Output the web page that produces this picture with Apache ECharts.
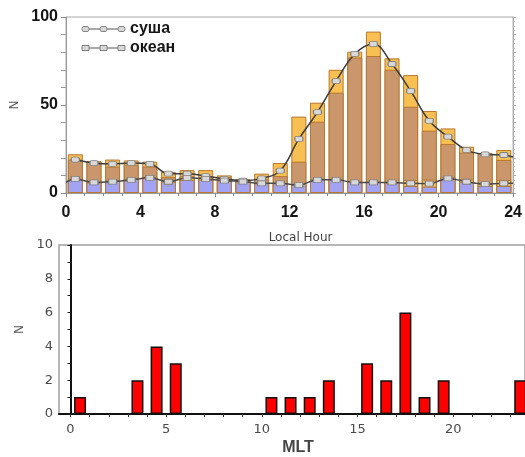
<!DOCTYPE html>
<html>
<head>
<meta charset="utf-8">
<script src="https://cdn.jsdelivr.net/npm/echarts@6/dist/echarts.min.js"></script>
<style>html,body{margin:0;padding:0;background:#fff;}#c{width:525px;height:457px;}</style>
</head>
<body>
<div id="c"></div>
<script>
// ---- Top chart: Local Hour ----
const hourCenters = [0.5,1.5,2.5,3.5,4.5,5.5,6.5,7.5,8.5,9.5,10.5,11.5,12.5,13.5,14.5,15.5,16.5,17.5,18.5,19.5,20.5,21.5,22.5,23.5];
const landUpper = [22,18,19,18.5,17.8,12,13,13,10,7.8,11,17,43.4,51.3,70,80.3,91.7,76.5,67,46.6,36.7,26.3,22.5,24.4];
const landLower = [19,18,15,16,15,9,9.5,9,9,7.5,8,9.6,17.8,40.5,57,77,77.8,70,49,35.4,27.8,23,22.5,18.8];
const oceanUpper = [8,6,7,8,9,6.4,9.5,9,7,6.5,5.5,5.5,5,7.8,7.8,6.4,6.4,6,7.4,7.6,8.9,7.6,5,7.4];
const oceanLower = [8,6,7,8,9,6.4,7.4,7.5,7,6.5,5.5,5.5,5,7.8,7.8,6.4,6.4,6,4,3.6,8.9,6.4,4,4];
const landLine = [19,17,16.5,17,16.5,11,11,9.6,8,7,8.3,12.7,30.7,46,63.6,79,84.7,73.3,58,41,32,24.4,22,21.6];
const oceanLine = [8,6,6.5,7.5,8.6,6.4,8.6,8,7,6.5,5.5,5.5,4.5,7.5,7.5,6,6,6,5.5,5.3,8.3,6.4,5,5.5];
const landLineEdge = {x: 24, y: 20.5};
const oceanLineStart = {x: 0, y: 6};
const oceanLineEdge = {x: 24, y: 5.5};
const topXTicks = [0,4,8,12,16,20,24];

// ---- Bottom chart: MLT ----
const mltCenters = [0.5,3.5,4.5,5.5,10.5,11.5,12.5,13.5,15.5,16.5,17.5,18.5,19.5,23.5];
const mltCounts  = [1,2,4,3,1,1,1,2,3,2,6,1,2,2];
const mltLabelValues = [0,5,10,15,20];
const mltTickValues = [0,1,2,3,4,5,6,7,8,9,10,11,12,13,14,15,16,17,18,19,20,21,22,23];
const mltYMax = 10;

function pairs(xs, ys){ return xs.map((x,i)=>[x, ys[i]]); }

const chart = echarts.init(document.getElementById('c'), null, {renderer:'canvas'});

const boldTick = {fontFamily:'Liberation Sans, Arial, sans-serif', fontWeight:'bold', fontSize:16, color:'#151515'};
const thinTick = {fontFamily:'DejaVu Sans, sans-serif', fontSize:13, color:'#4a4a4a'};

const landLineData = pairs(hourCenters, landLine).concat([{value:[landLineEdge.x, landLineEdge.y], symbol:'none'}]);
const oceanLineData = [{value:[oceanLineStart.x, oceanLineStart.y], symbol:'none'}]
  .concat(pairs(hourCenters, oceanLine))
  .concat([{value:[oceanLineEdge.x, oceanLineEdge.y], symbol:'none'}]);

const mk = {fill:'#d8d8d8', stroke:'#808080', lineWidth:1};
const legendFont = {fontFamily:'Liberation Sans, Arial, sans-serif', fontWeight:'bold', fontSize:16, fill:'#151515', verticalAlign:'middle'};

const option = {
  animation: false,
  backgroundColor: '#fff',
  grid: [
    {left:66, right:5, top:17, height:176, show:true, borderColor:'#a8a8a8', borderWidth:1},
    {left:59, right:0, top:245, height:178, show:true, borderColor:'#a0a0a0', borderWidth:1.5, backgroundColor:'transparent'}
  ],
  xAxis: [
    {gridIndex:0, type:'value', min:0, max:24, interval:4,
     axisLine:{show:true, lineStyle:{color:'#9a9a9a', width:1}},
     axisTick:{show:true, length:4, lineStyle:{color:'#888'}},
     minorTick:{show:true, splitNumber:4, length:3, lineStyle:{color:'#888'}},
     splitLine:{show:false},
     axisLabel:{...boldTick, margin:12, customValues: topXTicks},
     name:'Local Hour', nameLocation:'middle', nameGap:39,
     nameTextStyle:{fontFamily:'DejaVu Sans, sans-serif', fontSize:12, color:'#444', padding:[0,0,0,22]}},
    {gridIndex:1, type:'value', min:-0.6, max:23.75,
     axisLine:{show:true, onZero:false, lineStyle:{color:'#111', width:2}},
     axisTick:{show:true, length:3, customValues: mltTickValues, lineStyle:{color:'#333'}},
     splitLine:{show:false},
     axisLabel:{...thinTick, margin:9, customValues: mltLabelValues},
     name:'MLT', nameLocation:'middle', nameGap:26,
     nameTextStyle:{fontFamily:'Liberation Sans, Arial, sans-serif', fontWeight:'bold', fontSize:16, color:'#444', padding:[0,0,0,12]}}
  ],
  yAxis: [
    {gridIndex:0, type:'value', min:0, max:100, interval:50,
     axisLine:{show:true, lineStyle:{color:'#9a9a9a', width:1}},
     axisTick:{show:true, length:5, lineStyle:{color:'#888'}},
     minorTick:{show:true, splitNumber:5, length:5, lineStyle:{color:'#999'}},
     splitLine:{show:false},
     axisLabel:{...boldTick, margin:8},
     name:'N', nameLocation:'middle', nameGap:38,
     nameTextStyle:{fontFamily:'DejaVu Sans, sans-serif', fontSize:12, color:'#555'}},
    {gridIndex:0, type:'value', position:'right', min:0, max:100, interval:10,
     axisLine:{show:true, lineStyle:{color:'#a8a8a8'}},
     axisTick:{show:true, length:3, lineStyle:{color:'#aaa'}},
     minorTick:{show:true, splitNumber:4, length:2, lineStyle:{color:'#bbb'}},
     axisLabel:{show:false}, splitLine:{show:false}},
    {gridIndex:1, type:'value', min:0, max:mltYMax, interval:2,
     axisLine:{show:true, lineStyle:{color:'#111', width:2}},
     axisTick:{show:true, length:3, lineStyle:{color:'#222'}},
     minorTick:{show:true, splitNumber:2, length:3, lineStyle:{color:'#222'}},
     splitLine:{show:false},
     axisLabel:{...thinTick, margin:6},
     name:'N', nameLocation:'middle', nameGap:28,
     nameTextStyle:{fontFamily:'DejaVu Sans, sans-serif', fontSize:12, color:'#555'}}
  ],
  series: [
    {type:'bar', xAxisIndex:0, yAxisIndex:0, barWidth:15, barGap:'-100%', data:pairs(hourCenters, landUpper),
     itemStyle:{color:'#F8BF52', borderColor:'#B9782F', borderWidth:1}},
    {type:'bar', xAxisIndex:0, yAxisIndex:0, barWidth:15, barGap:'-100%', data:pairs(hourCenters, landLower),
     itemStyle:{color:'#CA976C', borderColor:'#B9782F', borderWidth:1}},
    {type:'bar', xAxisIndex:0, yAxisIndex:0, barWidth:15, barGap:'-100%', data:pairs(hourCenters, oceanUpper),
     itemStyle:{color:'#F8BF52', borderColor:'#B9782F', borderWidth:1}},
    {type:'bar', xAxisIndex:0, yAxisIndex:0, barWidth:15, barGap:'-100%', data:pairs(hourCenters, oceanLower),
     itemStyle:{color:'#A3A3F6', borderColor:'#B9782F', borderWidth:1}},
    {type:'line', xAxisIndex:0, yAxisIndex:0, z:4, smooth:0.4, data:landLineData,
     symbol:'roundRect', symbolSize:[8,5], showAllSymbol:true,
     lineStyle:{color:'#3c3c3c', width:1.5},
     itemStyle:{color:'#d8d8d8', borderColor:'#808080', borderWidth:1}},
    {type:'line', xAxisIndex:0, yAxisIndex:0, z:4, smooth:0.4, data:oceanLineData,
     symbol:'rect', symbolSize:[8,5], showAllSymbol:true,
     lineStyle:{color:'#4a4a4a', width:1.5},
     itemStyle:{color:'#d8d8d8', borderColor:'#808080', borderWidth:1}},
    {type:'bar', xAxisIndex:1, yAxisIndex:2, barWidth:12, clip:false, data:pairs(mltCenters, mltCounts),
     itemStyle:{color:'#FF0000', borderColor:'#111', borderWidth:1.5}}
  ],
  graphic: [
    {type:'line', shape:{x1:82,y1:29,x2:125,y2:29}, style:{stroke:'#555', lineWidth:1}},
    {type:'rect', shape:{x:82,y:26.5,width:7,height:5,r:2}, style:mk},
    {type:'rect', shape:{x:100,y:26.5,width:7,height:5,r:2}, style:mk},
    {type:'rect', shape:{x:118,y:26.5,width:7,height:5,r:2}, style:mk},
    {type:'text', x:130, y:29, style:{text:'суша', ...legendFont}},
    {type:'line', shape:{x1:82,y1:48,x2:125,y2:48}, style:{stroke:'#555', lineWidth:1}},
    {type:'rect', shape:{x:82,y:45.5,width:7,height:5}, style:mk},
    {type:'rect', shape:{x:100,y:45.5,width:7,height:5}, style:mk},
    {type:'rect', shape:{x:118,y:45.5,width:7,height:5}, style:mk},
    {type:'text', x:130, y:48, style:{text:'океан', ...legendFont}}
  ]
};
chart.setOption(option);
</script>
</body>
</html>
